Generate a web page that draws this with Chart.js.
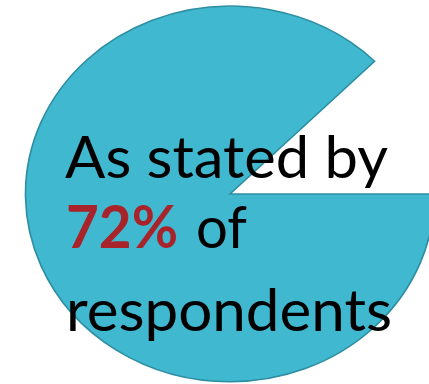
<!DOCTYPE html>
<html>
<head>
<meta charset="utf-8">
<script src="https://cdn.jsdelivr.net/npm/chart.js@4.4.1/dist/chart.umd.min.js"></script>
<style>
  html, body { margin: 0; padding: 0; background: #ffffff; }
  #wrap { position: relative; width: 429px; height: 384px; overflow: hidden; }
  canvas { display: block; }
</style>
</head>
<body>
<div id="wrap"><canvas id="c" width="429" height="384"></canvas></div>
<script>
const categories = ["Stated", "Other"];
const values = [87.5, 12.5];
const textLines = ["As stated by", "72%", "of", "respondents"];

const CX = 230, CY = 194, RX = 204.5, RY = 188.5;

function fitText(ctx, txt, x, y, targetW) {
  const w = ctx.measureText(txt).width;
  const s = targetW / w;
  ctx.save();
  ctx.translate(x, y);
  ctx.scale(s, 1);
  ctx.fillText(txt, 0, 0);
  ctx.restore();
}

const ellipsePlugin = {
  id: 'ellipse',
  beforeDatasetsDraw(chart) {
    const ctx = chart.ctx;
    const arc = chart.getDatasetMeta(0).data[0];
    const sx = RX / arc.outerRadius;
    ctx.save();
    ctx.translate(arc.x, arc.y);
    ctx.scale(sx, 1);
    ctx.translate(-arc.x, -arc.y);
  },
  afterDatasetsDraw(chart) {
    chart.ctx.restore();
  },
  afterDraw(chart) {
    const ctx = chart.ctx;
    ctx.save();
    ctx.textBaseline = 'alphabetic';
    ctx.textAlign = 'left';
    ctx.fillStyle = '#000000';
    ctx.font = '59px Lato';
    fitText(ctx, textLines[0], 65, 178, 323);
    ctx.font = 'bold 59px Lato';
    ctx.fillStyle = '#a8232a';
    fitText(ctx, textLines[1], 66, 248, 112);
    ctx.font = '59px Lato';
    ctx.fillStyle = '#000000';
    fitText(ctx, textLines[2], 196, 248, 51);
    fitText(ctx, textLines[3], 66, 331, 326);
    ctx.restore();
  }
};

new Chart(document.getElementById('c'), {
  type: 'pie',
  data: {
    labels: categories,
    datasets: [{
      data: values,
      backgroundColor: ['#40b8d0', 'rgba(0,0,0,0)'],
      borderColor: ['#2e8ea2', 'rgba(0,0,0,0)'],
      borderWidth: [1.5, 0],
      borderJoinStyle: 'miter'
    }]
  },
  options: {
    responsive: false,
    animation: false,
    rotation: 90,
    layout: { padding: { left: 2 * CX - 429, right: 0, top: CY - RY, bottom: 384 - (CY + RY) } },
    plugins: { legend: { display: false }, tooltip: { enabled: false } }
  },
  plugins: [ellipsePlugin]
});
</script>
</body>
</html>
